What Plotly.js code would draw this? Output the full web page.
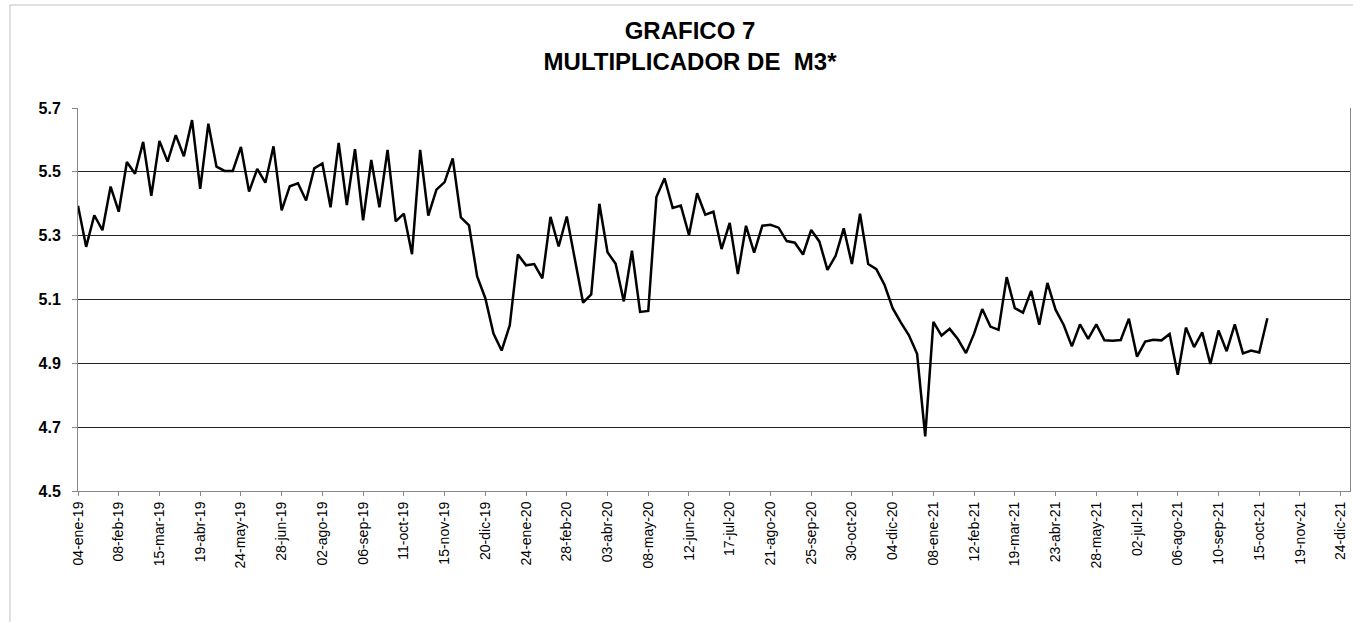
<!DOCTYPE html>
<html>
<head>
<meta charset="utf-8">
<script src="https://cdn.plot.ly/plotly-3.0.1.min.js"></script>
<style>html,body{margin:0;padding:0;background:#fff;}#chart{width:1353px;height:622px;}</style>
</head>
<body>
<div id="chart"></div>
<script>
// Weekly observations, first week ending 04-ene-19
const startDate = "2019-01-04";
const multiplicadorM3 = [
  5.394, 5.265, 5.364, 5.317, 5.454, 5.375, 5.531, 5.494, 5.594, 5.425,
  5.597, 5.532, 5.615, 5.549, 5.662, 5.447, 5.651, 5.516, 5.503, 5.503,
  5.578, 5.438, 5.509, 5.466, 5.580, 5.379, 5.455, 5.464, 5.410, 5.511,
  5.526, 5.389, 5.591, 5.396, 5.571, 5.348, 5.537, 5.389, 5.569, 5.345,
  5.369, 5.242, 5.569, 5.363, 5.444, 5.468, 5.542, 5.357, 5.332, 5.172,
  5.104, 4.993, 4.940, 5.019, 5.241, 5.207, 5.211, 5.166, 5.359, 5.266,
  5.360, 5.228, 5.090, 5.116, 5.400, 5.248, 5.212, 5.094, 5.253, 5.061,
  5.064, 5.421, 5.480, 5.387, 5.394, 5.302, 5.433, 5.366, 5.375, 5.258,
  5.340, 5.180, 5.331, 5.247, 5.331, 5.334, 5.325, 5.283, 5.278, 5.241,
  5.318, 5.282, 5.193, 5.237, 5.323, 5.211, 5.369, 5.211, 5.195, 5.146,
  5.073, 5.028, 4.988, 4.930, 4.671, 5.030, 4.987, 5.008, 4.976, 4.932,
  4.993, 5.070, 5.015, 5.005, 5.170, 5.073, 5.059, 5.127, 5.021, 5.152,
  5.068, 5.020, 4.953, 5.022, 4.977, 5.022, 4.972, 4.971, 4.973, 5.040,
  4.921, 4.968, 4.974, 4.972, 4.992, 4.864, 5.012, 4.951, 4.997, 4.898,
  5.003, 4.938, 5.022, 4.931, 4.940, 4.934, 5.041
];
const tickDates = [
  "2019-01-04","2019-02-08","2019-03-15","2019-04-19","2019-05-24","2019-06-28",
  "2019-08-02","2019-09-06","2019-10-11","2019-11-15","2019-12-20","2020-01-24",
  "2020-02-28","2020-04-03","2020-05-08","2020-06-12","2020-07-17","2020-08-21",
  "2020-09-25","2020-10-30","2020-12-04","2021-01-08","2021-02-12","2021-03-19",
  "2021-04-23","2021-05-28","2021-07-02","2021-08-06","2021-09-10","2021-10-15",
  "2021-11-19","2021-12-24"
];
const tickLabels = [
  "04-ene-19","08-feb-19","15-mar-19","19-abr-19","24-may-19","28-jun-19",
  "02-ago-19","06-sep-19","11-oct-19","15-nov-19","20-dic-19","24-ene-20",
  "28-feb-20","03-abr-20","08-may-20","12-jun-20","17-jul-20","21-ago-20",
  "25-sep-20","30-oct-20","04-dic-20","08-ene-21","12-feb-21","19-mar-21",
  "23-abr-21","28-may-21","02-jul-21","06-ago-21","10-sep-21","15-oct-21",
  "19-nov-21","24-dic-21"
];
const yTicks = [4.5, 4.7, 4.9, 5.1, 5.3, 5.5, 5.7];
const yTickLabels = ["4.5", "4.7", "4.9", "5.1", "5.3", "5.5", "5.7"];

// weekly date axis
const dates = multiplicadorM3.map((_, i) => {
  const d = new Date(startDate + "T00:00:00Z");
  d.setUTCDate(d.getUTCDate() + 7 * i);
  return d.toISOString().slice(0, 10);
});

const FONT = "Liberation Sans, Arial, sans-serif";

const trace = {
  x: dates, y: multiplicadorM3, type: "scatter", mode: "lines",
  line: {color: "#000000", width: 2.5}, hoverinfo: "x+y", showlegend: false
};

const layout = {
  width: 1353, height: 622,
  margin: {l: 78, r: 3, t: 108, b: 131},
  paper_bgcolor: "#ffffff", plot_bgcolor: "#ffffff",
  font: {family: FONT, color: "#000"},
  title: {
    text: "<b>GRAFICO 7</b><br><b>MULTIPLICADOR DE  M3*</b>",
    font: {family: FONT, size: 24, color: "#000"},
    x: 0.51, xref: "container", xanchor: "center",
    y: 0.938, yref: "container", yanchor: "top"
  },
  xaxis: {
    type: "date",
    range: ["2019-01-04", "2022-01-01"],
    tickmode: "array", tickvals: tickDates, ticktext: tickLabels,
    tickangle: -90, tickfont: {family: FONT, size: 14, color: "#000"},
    ticks: "outside", ticklen: 4, tickcolor: "#888",
    showgrid: false, zeroline: false,
    showline: true, linecolor: "#888", linewidth: 1
  },
  yaxis: {
    range: [4.5, 5.7],
    tickmode: "array", tickvals: yTicks, ticktext: yTickLabels,
    tickfont: {family: FONT, size: 16, color: "#000", weight: "bold"},
    ticks: "outside", ticklen: 5, tickcolor: "#888", ticklabelstandoff: 8,
    showgrid: true, gridcolor: "#222", gridwidth: 1,
    zeroline: false,
    showline: true, linecolor: "#888", linewidth: 1, mirror: true
  },
  shapes: [{
    type: "rect", xref: "paper", yref: "paper",
    x0: -0.0535, x1: 1.05, y0: -0.40, y1: 1.269,
    line: {color: "#c0c0c0", width: 1}, fillcolor: "rgba(0,0,0,0)", layer: "below"
  }]
};

Plotly.newPlot("chart", [trace], layout, {displayModeBar: false, staticPlot: true});
</script>
</body>
</html>
